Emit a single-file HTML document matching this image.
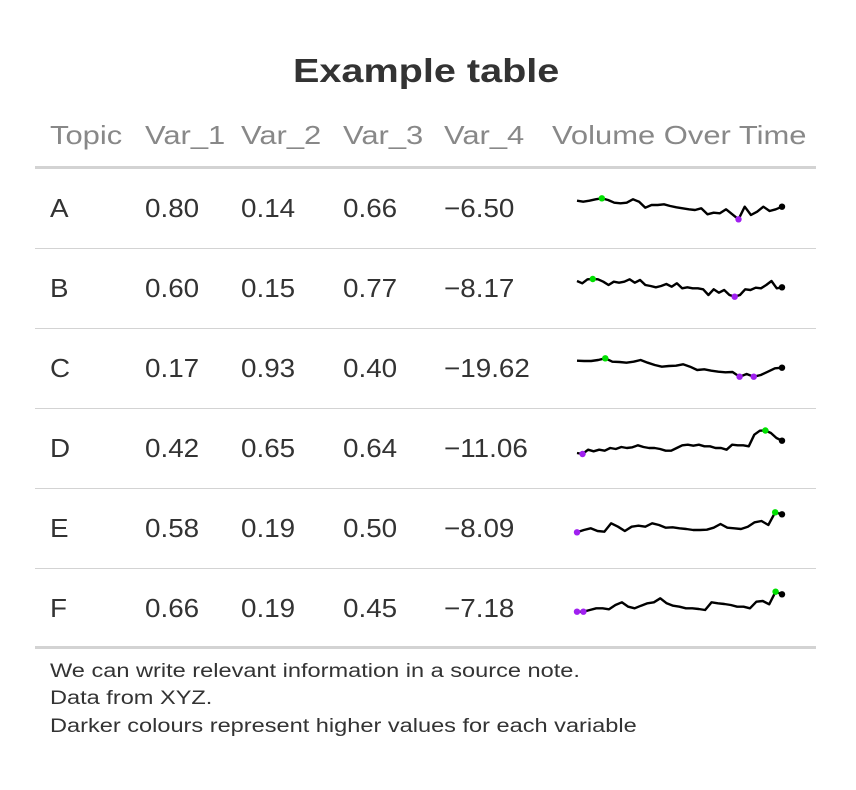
<!DOCTYPE html>
<html><head><meta charset="utf-8"><style>
body{margin:0;background:#fff;width:856px;height:790px;position:relative;font-family:"Liberation Sans",sans-serif;color:#333;overflow:hidden}
.t{position:absolute;white-space:nowrap;transform-origin:0 50%}
.h{color:#888;font-size:26px;top:120px;transform:scaleX(1.19)}
.c{font-size:26px;transform:scaleX(1.07)}
.n{font-size:19px;left:50px;transform:scaleX(1.24)}
.ln{position:absolute;left:35px;width:781px;background:#d3d3d3}
</style></head><body>
<div class="t" style="left:293px;top:52px;font-size:33px;font-weight:bold;color:#333;transform:scaleX(1.2)">Example table</div>
<div class="t h" style="left:50px">Topic</div>
<div class="t h" style="left:145px">Var_1</div>
<div class="t h" style="left:241px">Var_2</div>
<div class="t h" style="left:343px">Var_3</div>
<div class="t h" style="left:444px">Var_4</div>
<div class="t h" style="left:552px">Volume Over Time</div>
<div class="ln" style="top:166px;height:3px"></div>
<div id="rows"></div>
<div class="ln" style="top:646px;height:3px"></div>
<div class="t n" style="top:661px">We can write relevant information in a source note.</div>
<div class="t n" style="top:688px">Data from XYZ.</div>
<div class="t n" style="top:716px">Darker colours represent higher values for each variable</div>
<svg id="sp" width="856" height="790" style="position:absolute;left:0;top:0"></svg>
<script>
const topics=["A","B","C","D","E","F"];
const var1=["0.80","0.60","0.17","0.42","0.58","0.66"];
const var2=["0.14","0.15","0.93","0.65","0.19","0.19"];
const var3=["0.66","0.77","0.40","0.64","0.50","0.45"];
const var4=["−6.50","−8.17","−19.62","−11.06","−8.09","−7.18"];
const serA=[19.3,18.3,19.3,20.7,21.7,20,17.3,16.7,17.3,20.7,18.3,12.3,15,15,15.7,14,12.7,11.7,10.7,10,11.7,5.7,7.3,6.7,10.7,5.7,0.7,13.3,5,8.3,13.3,9,10.7,13.3];
const serB=[19,16.7,20.7,21,20.7,18.3,15,18.3,17.3,18.3,20.7,17.3,20,15,14,12.7,14,16,13.3,16.7,11.7,12.7,11.7,11.7,10.7,5,10.7,7.3,10,5,3.3,5,10.7,10,12.3,11.7,15,19,11.7,12.7];
const serC=[19.3,19,19,20,21.7,18.3,18,17.3,18.3,20,17.3,15,13.3,14,14.3,15.7,13.3,10,10.7,9.3,8.3,7.7,8,3.3,6,3.3,5,8.3,11.7,12.3];
const serD=[5,4,8.3,6.7,8.3,7.3,10,9,11,10,10.7,12.7,11,10,10,9,7.3,7.3,10,12.7,13.3,12.3,13.3,11.7,11.7,10,10,8.3,13.3,12.7,12.7,11.7,23.3,27.3,27.5,25,20,17.3];
const serE=[2.7,5,6.7,4,3.3,11.7,8.3,4,8.3,9.3,8.3,11.7,10,7.3,7.7,6.7,6,5,5,5.3,7.3,11,7.3,6.7,6,8.3,12.7,14,10,22.7,20.7];
const serF=[3.3,3.3,5,6.7,6.7,5.7,10,12.7,8.3,6.7,9.3,11.7,12.7,16.7,11.7,9.3,8.3,6.7,6.7,6,5,12.7,11.7,11,10,8.3,8.3,6.7,13.3,14,10.7,23.3,20.7];
const series=[serA,serB,serC,serD,serE,serF];
const rowsEl=document.getElementById('rows');
const colX=[50,145,241,343,444];
const baseY=[220,300,380,458,535,615];
const x0=577,x1=782,yScale=1;
const sp=document.getElementById('sp');
const NS="http://www.w3.org/2000/svg";
topics.forEach((t,i)=>{
  const top=169+i*80;
  const vals=[t,var1[i],var2[i],var3[i],var4[i]];
  const names=['topic','var-1','var-2','var-3','var-4'];
  vals.forEach((v,j)=>{
    const d=document.createElement('div');
    d.className='t c';
    
    
    d.style.left=colX[j]+'px';d.style.top=(top+24)+'px';
    d.textContent=v;rowsEl.appendChild(d);
  });
  if(i<5){const l=document.createElement('div');l.className='ln';
    
    
    l.style.top=(top+79)+'px';l.style.height='1px';rowsEl.appendChild(l);}
  const s=series[i],n=s.length;
  const X=k=>x0+k*(x1-x0)/(n-1), Y=v=>baseY[i]-v*yScale;
  const p=document.createElementNS(NS,'polyline');
  
  
  p.setAttribute('points',s.map((v,k)=>X(k)+','+Y(v)).join(' '));
  p.setAttribute('fill','none');p.setAttribute('stroke','#000');p.setAttribute('stroke-width','2.4');p.setAttribute('stroke-linejoin','round');
  sp.appendChild(p);
  const mx=Math.max(...s),mn=Math.min(...s);
  const dot=(k,c,nm)=>{const e=document.createElementNS(NS,'circle');
    
    
    e.setAttribute('cx',X(k));e.setAttribute('cy',Y(s[k]));e.setAttribute('r','3.2');e.setAttribute('fill',c);sp.appendChild(e);};
  s.forEach((v,k)=>{if(v===mx)dot(k,'#00e000','max-point');if(v===mn)dot(k,'#a020f0','min-point');});
  dot(n-1,'#000','last-point');
});
</script>
</body></html>
